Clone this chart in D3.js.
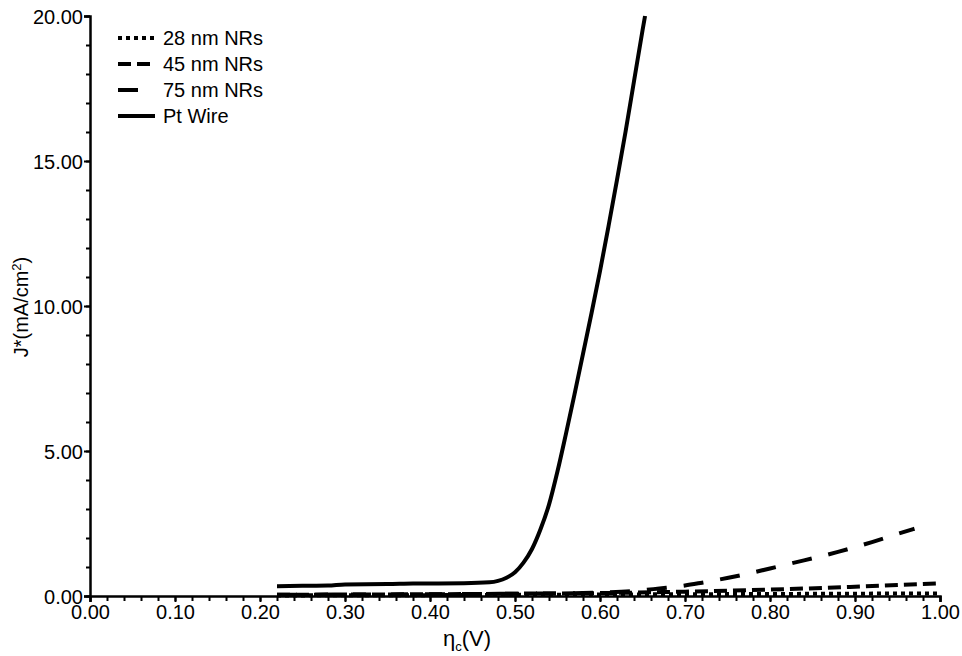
<!doctype html>
<html>
<head>
<script src="https://cdn.jsdelivr.net/npm/d3@7"></script>
<style>
  body { margin: 0; background: #fff; }
  svg { display: block; font-family: "Liberation Sans", Arial, sans-serif; }
  .axis path, .axis line { stroke: #000; }
  .axis text { font-size: 20px; fill: #000; }
</style>
</head>
<body>
<svg width="962" height="656"></svg>
<script>
// series data (eta in V, J* in mA/cm2)
var ptEta = [0.22, 0.25, 0.28, 0.30, 0.35, 0.38, 0.44, 0.47, 0.48, 0.49, 0.50, 0.51, 0.52, 0.53, 0.54, 0.55, 0.56, 0.57, 0.58, 0.59, 0.60, 0.61, 0.62, 0.63, 0.64, 0.65, 0.653];
var ptJ   = [0.34, 0.35, 0.36, 0.40, 0.41, 0.43, 0.44, 0.47, 0.52, 0.63, 0.82, 1.15, 1.62, 2.30, 3.15, 4.3, 5.6, 6.95, 8.35, 9.75, 11.2, 12.75, 14.35, 16.0, 17.75, 19.5, 20.0];

var nr75Eta = [0.22, 0.30, 0.40, 0.50, 0.55, 0.60, 0.64, 0.67, 0.70, 0.72, 0.76, 0.80, 0.84, 0.88, 0.92, 0.95, 0.97];
var nr75J   = [0.04, 0.05, 0.06, 0.08, 0.09, 0.12, 0.17, 0.26, 0.36, 0.46, 0.68, 0.95, 1.23, 1.52, 1.86, 2.14, 2.32];

var nr45Eta = [0.22, 0.30, 0.40, 0.50, 0.60, 0.70, 0.80, 0.90, 0.95, 1.00];
var nr45J   = [0.04, 0.05, 0.06, 0.08, 0.10, 0.15, 0.22, 0.32, 0.38, 0.44];

var nr28Eta = [0.22, 0.40, 0.50, 0.60, 0.70, 0.80, 0.90, 1.00];
var nr28J   = [0.02, 0.03, 0.04, 0.05, 0.06, 0.07, 0.08, 0.09];

var legendNames = ["28 nm NRs", "45 nm NRs", "75 nm NRs", "Pt Wire"];
var xTicks = d3.range(0, 1.0001, 0.1);
var yTicks = [0, 5, 10, 15, 20];

function zip(a, b) { return a.map(function(v, i) { return [v, b[i]]; }); }

var series = [
  { name: legendNames[0], pts: zip(nr28Eta, nr28J), dash: "4,4" },
  { name: legendNames[1], pts: zip(nr45Eta, nr45J), dash: "13,6" },
  { name: legendNames[2], pts: zip(nr75Eta, nr75J), dash: "20,17" },
  { name: legendNames[3], pts: zip(ptEta, ptJ), dash: null }
];

var svg = d3.select("svg");
var x = d3.scaleLinear().domain([0, 1]).range([90, 940]);
var y = d3.scaleLinear().domain([0, 20]).range([596, 16]);

// minor ticks
var xMinor = d3.axisBottom(x).tickValues(d3.range(0, 1.0001, 0.02)).tickSize(5).tickFormat("");
var yMinor = d3.axisLeft(y).tickValues(d3.range(0, 20.001, 1)).tickSize(4).tickFormat("");
svg.append("g").attr("class", "axis").attr("transform", "translate(0," + y(0) + ")").call(xMinor)
   .selectAll("line").attr("stroke-width", 2);
svg.append("g").attr("class", "axis").attr("transform", "translate(" + x(0) + ",0)").call(yMinor)
   .selectAll("line").attr("stroke-width", 2);

var xAxis = d3.axisBottom(x).tickValues(xTicks).tickSize(6).tickPadding(3).tickFormat(d3.format(".2f"));
var yAxis = d3.axisLeft(y).tickValues(yTicks).tickSize(6).tickPadding(1).tickFormat(d3.format(".2f"));

var gx = svg.append("g").attr("class", "axis").attr("transform", "translate(0," + y(0) + ")").call(xAxis);
var gy = svg.append("g").attr("class", "axis").attr("transform", "translate(" + x(0) + ",0)").call(yAxis);
[gx, gy].forEach(function(g) {
  g.select(".domain").attr("stroke-width", 2.5);
  g.selectAll("line").attr("stroke-width", 2);
});
gy.selectAll("text").attr("dy", "0.35em");

// curves
var line = d3.line()
  .x(function(d) { return x(d[0]); })
  .y(function(d) { return y(d[1]); })
  .curve(d3.curveMonotoneX);

svg.append("g").selectAll("path").data(series).enter().append("path")
  .attr("d", function(d) { return line(d.pts); })
  .attr("fill", "none")
  .attr("stroke", "#000")
  .attr("stroke-width", 4)
  .attr("stroke-dasharray", function(d) { return d.dash; });

// legend
var lg = svg.append("g").attr("transform", "translate(118,38)");
var row = lg.selectAll("g").data(series).enter().append("g")
  .attr("transform", function(d, i) { return "translate(0," + (i * 26) + ")"; });
row.append("line")
  .attr("x1", 0).attr("x2", 37).attr("y1", 0).attr("y2", 0)
  .attr("stroke", "#000").attr("stroke-width", 4)
  .attr("stroke-dasharray", function(d) { return d.dash; });
row.append("text")
  .attr("x", 45).attr("y", 0).attr("dy", "0.35em")
  .style("font-size", "20px")
  .text(function(d) { return d.name; });

// axis titles
svg.append("text")
  .attr("transform", "translate(28,307) rotate(-90)")
  .attr("text-anchor", "middle")
  .style("font-size", "20px")
  .html('J*(mA/cm<tspan dy="-7" font-size="13px">2</tspan><tspan dy="7">)</tspan>');

svg.append("text")
  .attr("x", 443).attr("y", 646)
  .style("font-size", "22px")
  .html('η<tspan dy="5" font-size="13px">c</tspan><tspan dy="-5">(V)</tspan>');
</script>
</body>
</html>
